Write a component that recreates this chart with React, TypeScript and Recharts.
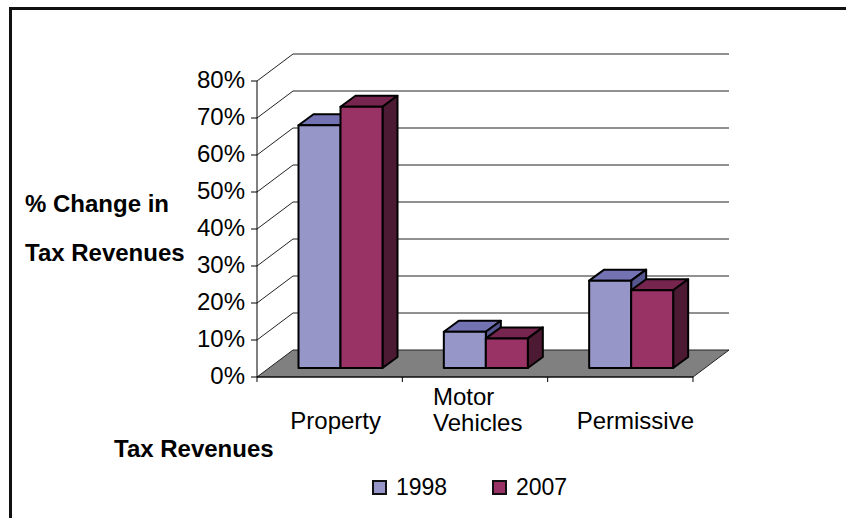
import { BarChart, Bar, XAxis, YAxis, CartesianGrid, Legend } from 'recharts';

const categories = ['Property', 'Motor Vehicles', 'Permissive'];
const values1998 = [65.6, 9.8, 23.6];
const values2007 = [70.6, 8, 21];
const yTicks = [0, 10, 20, 30, 40, 50, 60, 70, 80];

const data = categories.map((name, i) => ({ name, y1998: values1998[i], y2007: values2007[i] }));

const FONT = '"Liberation Sans", Arial, sans-serif';
const WALL_DX = 36;
const WALL_DY = -27;
const BAR_DX = 10.5;
const BAR_DY = -9;
const DEPTH_DX = 15;
const DEPTH_DY = -11;
const BAND = 145.33;

const shades: any = {
  '#9696C8': { top: '#7373B4', side: '#55558F' },
  '#993366': { top: '#76264E', side: '#4D1A33' },
};

// 3d box, offset into the floor
const Box = (props: any) => {
  const { x, y, width, height, fill } = props;
  const l = x + BAR_DX;
  const t = y + BAR_DY;
  const r = l + width;
  const b = t + height;
  const s = shades[fill];
  const common = { stroke: '#000', strokeWidth: 2, strokeLinejoin: 'round' as const };
  return (
    <g>
      <polygon points={`${l},${t} ${l + DEPTH_DX},${t + DEPTH_DY} ${r + DEPTH_DX},${t + DEPTH_DY} ${r},${t}`} fill={s.top} {...common} />
      <polygon points={`${r},${t} ${r + DEPTH_DX},${t + DEPTH_DY} ${r + DEPTH_DX},${b + DEPTH_DY} ${r},${b}`} fill={s.side} {...common} />
      <rect x={l} y={t} width={width} height={height} fill={fill} {...common} />
    </g>
  );
};

const WallLine = (props: any) => {
  const { x1, x2, y1, index } = props;
  const bx1 = x1 + WALL_DX;
  const bx2 = x2 + WALL_DX;
  const by = y1 + WALL_DY;
  if (Math.abs(y1 - 377) < 1) {
    return (
      <polygon
        key={`floor-${index}`}
        points={`${x1},${y1} ${bx1},${by} ${bx2},${by} ${x2},${y1}`}
        fill="#808080"
        stroke="#222"
        strokeWidth={1}
      />
    );
  }
  return (
    <polyline
      key={`wall-${index}`}
      points={`${x1},${y1} ${bx1},${by} ${bx2},${by}`}
      fill="none"
      stroke="#222"
      strokeWidth={1}
    />
  );
};

const CategoryTick = (props: any) => {
  const { x, y, index } = props;
  const left = x - BAND / 2;
  const textProps = { fontFamily: FONT, fontSize: 24, fill: '#000' };
  return (
    <g>
      <line x1={left} x2={left} y1={y - 8} y2={y - 3} stroke="#000" />
      {index === categories.length - 1 && (
        <line x1={left + BAND} x2={left + BAND} y1={y - 8} y2={y - 3} stroke="#000" />
      )}
      {index === 0 && <text x={x + 6} y={y + 44} textAnchor="middle" {...textProps}>Property</text>}
      {index === 1 && (
        <>
          <text x={x - 42} y={y + 20} {...textProps}>Motor</text>
          <text x={x - 42} y={y + 46} {...textProps}>Vehicles</text>
        </>
      )}
      {index === 2 && <text x={x + 15} y={y + 44} textAnchor="middle" {...textProps}>Permissive</text>}
    </g>
  );
};

const LegendBox = (props: any) => (
  <div style={{ display: 'flex', fontFamily: FONT, fontSize: 23, color: '#000', lineHeight: '26px' }}>
    {props.payload.map((p: any) => (
      <div key={p.value} style={{ display: 'flex', alignItems: 'center', width: 121 }}>
        <span
          style={{
            display: 'inline-block',
            width: 11,
            height: 11,
            background: p.color,
            border: '2px solid #111',
            marginRight: 9,
          }}
        />
        {p.value}
      </div>
    ))}
  </div>
);

export default function App() {
  return (
    <div style={{ position: 'absolute', left: 0, top: 0, width: 846, height: 518, overflow: 'hidden', background: '#fff' }}>
      <div style={{ position: 'absolute', left: 9, top: 7, right: 0, bottom: 0, borderLeft: '3px solid #111', borderTop: '3px solid #111' }} />
      <div style={{ position: 'absolute', left: 0, top: 0 }}>
        <BarChart
          width={846}
          height={518}
          data={data}
          barSize={42}
          barGap={0}
          margin={{ top: 81, right: 153, bottom: 81, left: 197 }}
        >
          <CartesianGrid vertical={false} horizontal={WallLine} />
          <XAxis
            dataKey="name"
            interval={0}
            height={60}
            axisLine={{ stroke: '#000' }}
            tickLine={false}
            tick={CategoryTick}
          />
          <YAxis
            domain={[0, 80]}
            ticks={yTicks}
            interval={0}
            width={60}
            tickFormatter={(v: number) => `${v}%`}
            tick={{ fontFamily: FONT, fontSize: 24, fill: '#000', dy: -2 }}
            axisLine={{ stroke: '#000' }}
            tickLine={{ stroke: '#000' }}
            tickSize={6}
            tickMargin={6}
          />
          <Legend
            layout="horizontal"
            align="center"
            verticalAlign="middle"
            content={LegendBox}
            wrapperStyle={{ position: 'absolute', left: 372, top: 474, width: 240 }}
          />
          <Bar dataKey="y1998" name="1998" fill="#9696C8" shape={Box} isAnimationActive={false} />
          <Bar dataKey="y2007" name="2007" fill="#993366" shape={Box} isAnimationActive={false} />
          <text x={25} y={212} fontFamily={FONT} fontSize={24} fontWeight="bold" fill="#000">% Change in</text>
          <text x={25} y={261} fontFamily={FONT} fontSize={24} fontWeight="bold" fill="#000">Tax Revenues</text>
          <text x={114} y={457} fontFamily={FONT} fontSize={24} fontWeight="bold" fill="#000">Tax Revenues</text>
        </BarChart>
      </div>
    </div>
  );
}
